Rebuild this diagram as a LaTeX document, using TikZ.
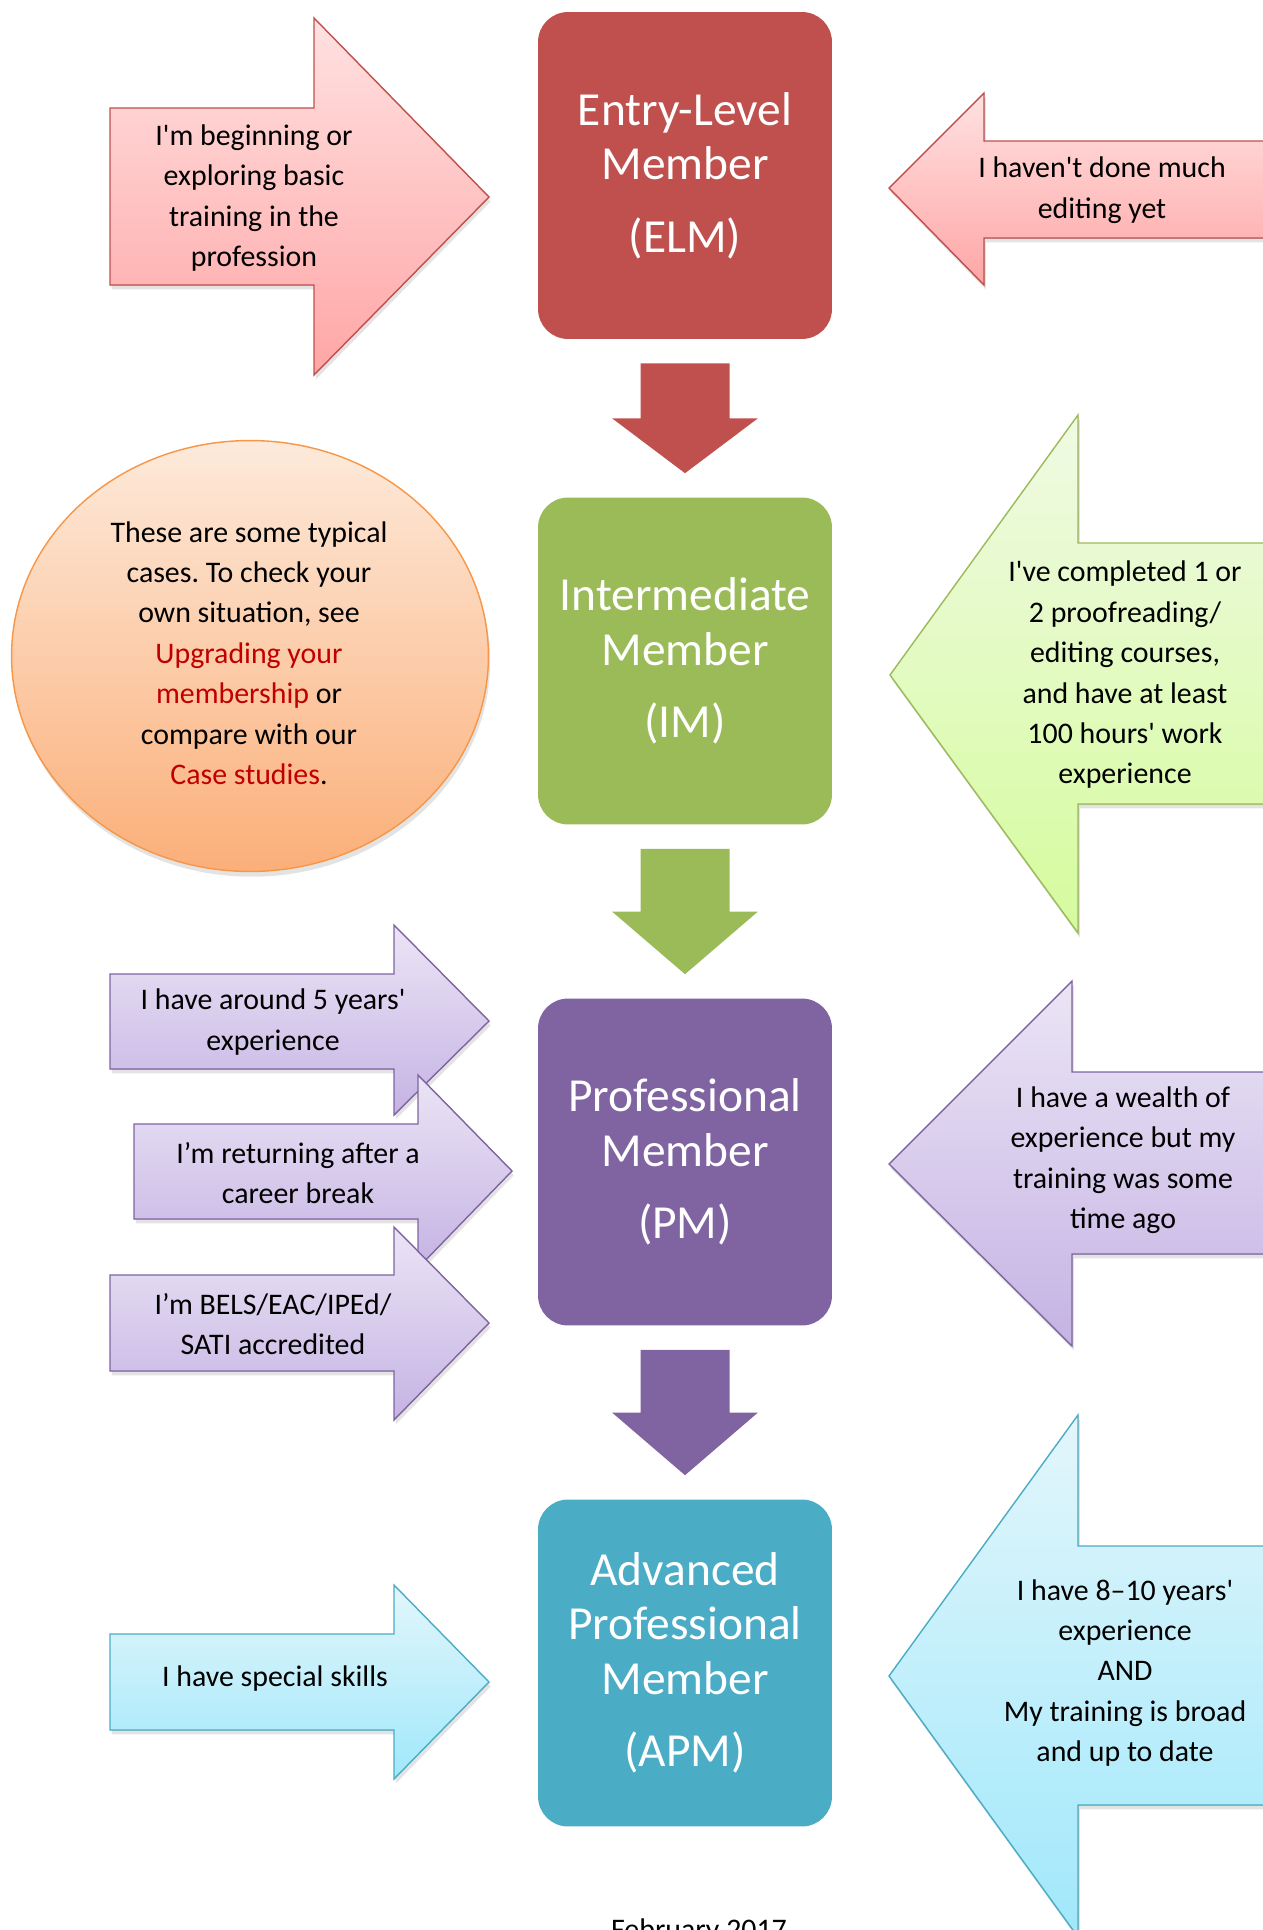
\documentclass[tikz,border=0pt]{standalone}
\usepackage{fontspec}
\setmainfont{Carlito}
\usetikzlibrary{calc,shapes.geometric,shadows}
\frenchspacing

\definecolor{elmred}{HTML}{C0504D}
\definecolor{imgreen}{HTML}{9BBB59}
\definecolor{pmpurple}{HTML}{8064A2}
\definecolor{apmblue}{HTML}{4BACC6}
\definecolor{casered}{HTML}{C00000}
\definecolor{pinktop}{HTML}{FFE1E1}
\definecolor{pinkbot}{HTML}{FFA6A6}
\definecolor{greentop}{HTML}{F0FAE4}
\definecolor{greenbot}{HTML}{D5FB9D}
\definecolor{purpletop}{HTML}{EBE5F5}
\definecolor{purplebot}{HTML}{C5B3E4}
\definecolor{bluetop}{HTML}{E3F6FB}
\definecolor{bluebot}{HTML}{A0E8FB}
\definecolor{orangetop}{HTML}{FDEADB}
\definecolor{orangebot}{HTML}{FBAF79}
\definecolor{orangeline}{HTML}{F79646}

\newcommand{\apos}{\textquotesingle}

\tikzset{
  member/.style={rectangle,rounded corners=0.6cm,minimum width=5.88cm,
    minimum height=6.54cm,text width=5.6cm,align=center,inner sep=0pt,
    text=white,font=\fontsize{27}{31}\selectfont},
  note/.style={align=center,inner sep=0pt,font=\fontsize{17}{23}\selectfont},
  block/.style={line width=0.8pt,
    drop shadow={opacity=0.22,shadow xshift=1pt,shadow yshift=-2.5pt}},
  pinkblock/.style={block,draw=elmred,top color=pinktop,bottom color=pinkbot},
  greenblock/.style={block,draw=imgreen,top color=greentop,bottom color=greenbot},
  purpleblock/.style={block,draw=pmpurple,top color=purpletop,bottom color=purplebot},
  blueblock/.style={block,draw=apmblue,top color=bluetop,bottom color=bluebot},
}

\begin{document}
\begin{tikzpicture}[x=0.02cm,y=-0.02cm]
\useasboundingbox (0,0) rectangle (1262,1930);

% membership levels
\node[member,fill=elmred] (elm) at (685,175.5)
  {Entry-Level\\Member\\[0.36cm](ELM)};
\node[member,fill=imgreen] (im) at (685,661)
  {Intermediate\\Member\\[0.36cm](IM)};
\node[member,fill=pmpurple] (pm) at (685,1162)
  {Professional\\Member\\[0.36cm](PM)};
\node[member,fill=apmblue] (apm) at (685,1663)
  {Advanced\\Professional\\Member\\[0.36cm](APM)};

% block arrows down the middle
\foreach \a/\b/\col in {elm/im/elmred,im/pm/imgreen,pm/apm/pmpurple}{
  \path ($(\a.south)+(0,24)$) coordinate (s)
        ($(\b.north)-(0,24)$) coordinate (t)
        ($(s)!0.5!(t)$) coordinate (m);
  \fill[\col]
    ($(s)+(-44.5,0)$) -- ($(s)+(44.5,0)$) --
    ($(m)+(44.5,0)$) -- ($(m)+(73,0)$) --
    (t) --
    ($(m)+(-73,0)$) -- ($(m)+(-44.5,0)$) -- cycle;
}

% entry level
\filldraw[pinkblock]
  (110,108) -- (314,108) -- (314,18) -- (489,197) --
  (314,375) -- (314,285) -- (110,285) -- cycle;
\filldraw[pinkblock]
  (1275,141) -- (984,141) -- (984,93) -- (889,188) --
  (984,285) -- (984,238) -- (1275,238) -- cycle;
\node[note] (elm-l) at (254,198)
  {I\apos m beginning or\\exploring basic\\training in the\\profession};
\node[note] (elm-r) at (1102,190)
  {I haven\apos t done much\\editing yet};

% intermediate
\node[ellipse,draw=orangeline,line width=0.8pt,top color=orangetop,
  bottom color=orangebot,minimum width=9.54cm,minimum height=8.62cm,
  drop shadow={opacity=0.22,shadow xshift=1pt,shadow yshift=-3pt}]
  (cases) at (250,656) {};
\node[note] (cases-t) at (249,653)
  {These are some typical\\cases. To check your\\own situation, see\\
   \textcolor{casered}{Upgrading your}\\\textcolor{casered}{membership} or\\
   compare with our\\\textcolor{casered}{Case studies}.};
\filldraw[greenblock]
  (1275,543) -- (1078,543) -- (1078,415) -- (890,675) --
  (1078,933) -- (1078,804) -- (1275,804) -- cycle;
\node[note] (im-r) at (1125,675)
  {I\apos ve completed 1 or\\2 proofreading/\\editing courses,\\and have at least\\
   100 hours\apos{} work\\experience};

% professional
\filldraw[purpleblock]
  (110,974) -- (394,974) -- (394,925) -- (489,1021) --
  (394,1115) -- (394,1069) -- (110,1069) -- cycle;
\filldraw[purpleblock]
  (134,1124) -- (418,1124) -- (418,1075) -- (512,1171) --
  (418,1268) -- (418,1219) -- (134,1219) -- cycle;
\filldraw[purpleblock]
  (110,1275) -- (394,1275) -- (394,1227) -- (489,1323) --
  (394,1420) -- (394,1371) -- (110,1371) -- cycle;
\filldraw[purpleblock]
  (1275,1072) -- (1072,1072) -- (1072,981) -- (889,1164) --
  (1072,1346) -- (1072,1254) -- (1275,1254) -- cycle;
\node[note] (pm-l1) at (273,1022) {I have around 5 years\apos\\experience};
\node[note] (pm-l2) at (298,1173) {I’m returning after a\\career break};
\node[note] (pm-l3) at (273,1324) {I’m BELS/EAC/IPEd/\\SATI accredited};
\node[note] (pm-r) at (1123,1160)
  {I have a wealth of\\experience but my\\training was some\\time ago};

% advanced professional
\filldraw[blueblock]
  (110,1634) -- (394,1634) -- (394,1585) -- (489,1682) --
  (394,1779) -- (394,1730) -- (110,1730) -- cycle;
\filldraw[blueblock]
  (1275,1546) -- (1078,1546) -- (1078,1415) -- (889,1676) --
  (1078,1937) -- (1078,1805) -- (1275,1805) -- cycle;
\node[note] (apm-l) at (275,1679) {I have special skills};
\node[note] (apm-r) at (1125,1673)
  {I have 8--10 years\apos\\experience\\AND\\My training is broad\\and up to date};

\node[note] (date) at (699,1932) {February 2017};
\end{tikzpicture}
\end{document}
